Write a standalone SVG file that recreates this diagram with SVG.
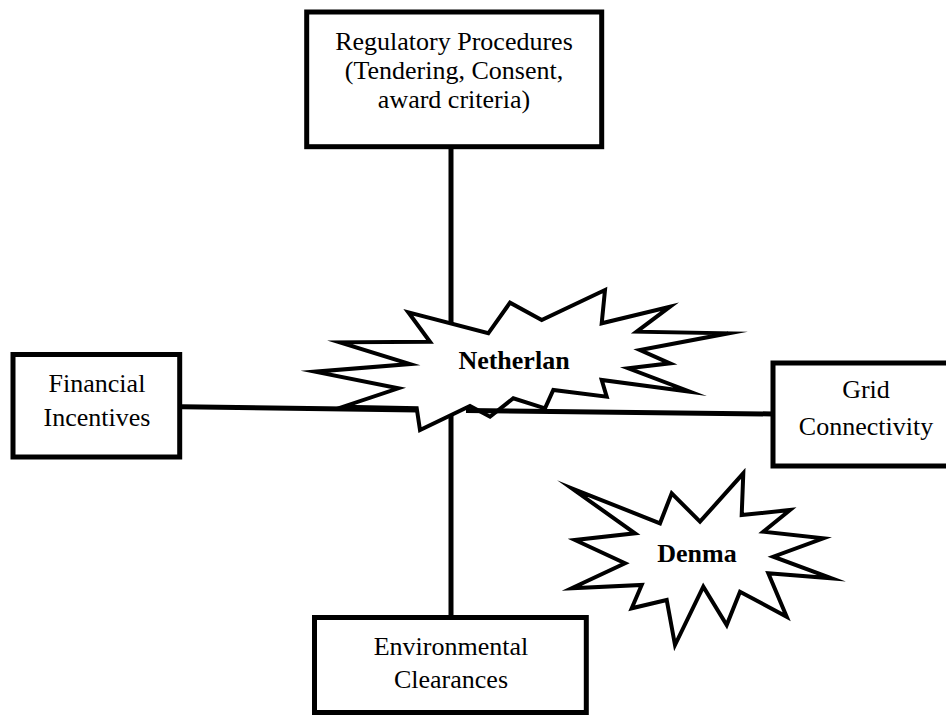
<svg xmlns="http://www.w3.org/2000/svg" width="946" height="716" viewBox="0 0 946 716">
<style>
.box{fill:#fff;stroke:#000;stroke-width:5}
.star{fill:#fff;stroke:#000;stroke-width:4;stroke-linejoin:miter;stroke-miterlimit:10}
.conn{stroke:#000;stroke-width:5;fill:none}
.t{font-family:"Liberation Serif","Times New Roman",serif;font-size:26px;fill:#000;text-anchor:middle}
.b{font-weight:bold}
</style>
<rect width="946" height="716" fill="#fff"/>
<g id="connectors-under">
<line class="conn" x1="451" y1="146" x2="451" y2="618"/>
</g>
<g id="netherlands">
<polygon class="star" points="408.3,312.3 430,341.7 340,342.3 410,364 315,371.7 398.3,388.3 343.3,406.7 416.7,408.3 420,430 470,406 490,416.7 513.3,398.3 545,408.3 553.3,390 606.7,396.7 601.7,380 690,391.7 628.3,368.3 670,363.3 640,350 728.3,333.3 636.7,331.7 670,306.7 601.7,323.3 605,290 541.7,320 510,302.7 488.3,333.3"/>
<text class="t b" x="514" y="369">Netherlan</text>
</g>
<g id="connectors">
<line class="conn" x1="182" y1="406.7" x2="418" y2="410"/>
<line class="conn" x1="466" y1="410.5" x2="773" y2="414"/>
</g>
<g id="regulatory">
<rect class="box" x="306.7" y="12" width="295" height="134.7"/>
<text class="t" x="454" y="50">Regulatory Procedures</text>
<text class="t" x="454" y="79">(Tendering, Consent,</text>
<text class="t" x="454" y="108">award criteria)</text>
</g>
<g id="financial">
<rect class="box" x="13" y="354.5" width="166.7" height="102.5"/>
<text class="t" x="97" y="391.5">Financial</text>
<text class="t" x="97" y="426">Incentives</text>
</g>
<g id="grid">
<rect class="box" x="773" y="363" width="190" height="103"/>
<text class="t" x="866" y="398">Grid</text>
<text class="t" x="866" y="435">Connectivity</text>
</g>
<g id="environmental">
<rect class="box" x="314.5" y="617.5" width="271.8" height="95"/>
<text class="t" x="451" y="655">Environmental</text>
<text class="t" x="451" y="688">Clearances</text>
</g>
<g id="denmark">
<polygon class="star" points="571.7,488.3 660,523.3 671.7,493.3 700,521.7 743.3,473.3 741.7,515 790,510 763.3,531.7 823.3,538.3 773.3,556.7 831.7,578.3 768.3,573.3 786.7,616.7 740,591.7 726.7,625 703.3,586.7 675,645 666.7,600 631.7,608.3 641.7,585 571.7,588.3 625,563.3 575,540 635,533.3"/>
<text class="t b" x="697" y="561.5">Denma</text>
</g>
</svg>
